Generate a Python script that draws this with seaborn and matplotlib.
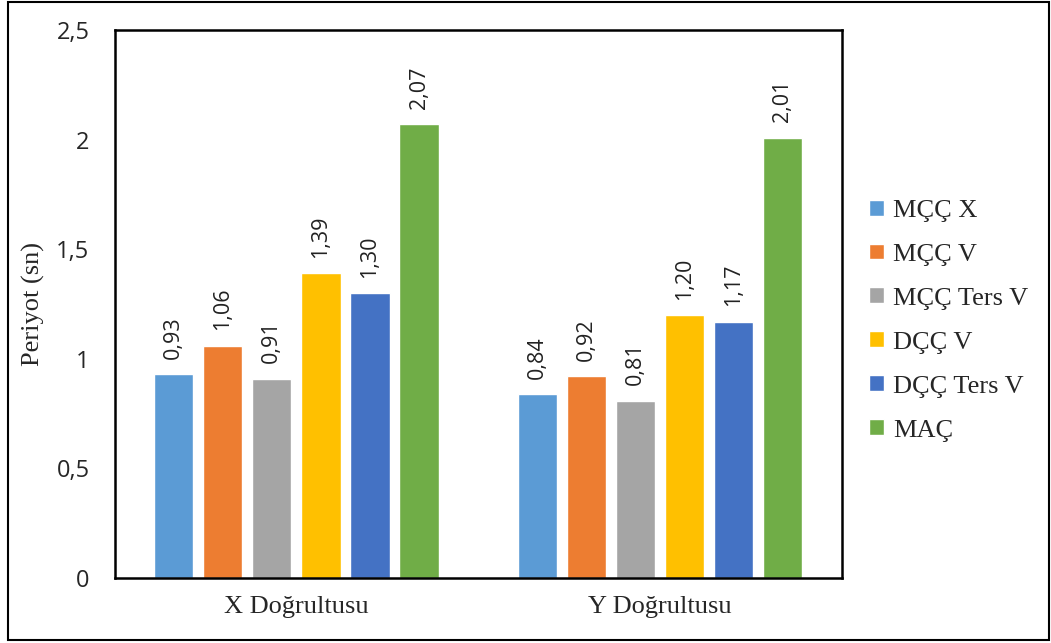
import pandas as pd
import matplotlib.pyplot as plt
import seaborn as sns
from matplotlib.patches import Rectangle

yonler = ["X Doğrultusu", "Y Doğrultusu"]
sistemler = ["MÇÇ X", "MÇÇ V", "MÇÇ Ters V", "DÇÇ V", "DÇÇ Ters V", "MAÇ"]
x_degerleri = [0.93, 1.06, 0.91, 1.39, 1.30, 2.07]
y_degerleri = [0.84, 0.92, 0.81, 1.20, 1.17, 2.01]
renkler = ["#5B9BD5", "#ED7D31", "#A5A5A5", "#FFC000", "#4472C4", "#70AD47"]

df = pd.DataFrame({
    "yon": [yonler[0]] * 6 + [yonler[1]] * 6,
    "sistem": sistemler * 2,
    "periyot": x_degerleri + y_degerleri,
})

sns.set_style("white")
plt.rcParams['font.family'] = ['Open Sans', 'DejaVu Sans']

fig = plt.figure(figsize=(10.51, 6.43), dpi=100)
ax = fig.add_axes([0.109, 0.101, 0.692, 0.852])

sns.barplot(data=df, x="yon", y="periyot", hue="sistem", hue_order=sistemler,
            palette=renkler, width=0.81, gap=0.2, ax=ax, saturation=1)

# degerleri virgullu yaz
for c in ax.containers:
    ax.bar_label(c, labels=[f"{v:.2f}".replace(".", ",") for v in c.datavalues],
                 rotation=90, padding=11, fontsize=15.5, color='#222222')

ax.set_ylim(0, 2.5)
ax.set_xlim(-0.5, 1.5)
ax.set_yticks([0, 0.5, 1, 1.5, 2, 2.5])
ax.set_yticklabels(["0", "0,5", "1", "1,5", "2", "2,5"], fontsize=17)
ax.tick_params(axis='y', length=0, pad=18)
ax.tick_params(axis='x', length=0, pad=13)
for t in ax.get_xticklabels():
    t.set_family('Liberation Serif')
    t.set_fontsize(19)
ax.set_xlabel("")
ax.set_ylabel("Periyot (sn)", family='Liberation Serif', fontsize=19, labelpad=8)

for s in ax.spines.values():
    s.set_color('black')
    s.set_linewidth(1.8)

ax.legend(loc='center left', bbox_to_anchor=(1.005, 0.47), frameon=False,
          prop={'family': 'Liberation Serif', 'size': 19},
          handlelength=0.55, handleheight=0.55, handletextpad=0.35, labelspacing=0.82)

fig.patches.append(Rectangle((0.008, 0.004), 0.99, 0.993, transform=fig.transFigure,
                             fill=False, edgecolor='black', linewidth=1.5))

plt.savefig("out.png", dpi=100)
